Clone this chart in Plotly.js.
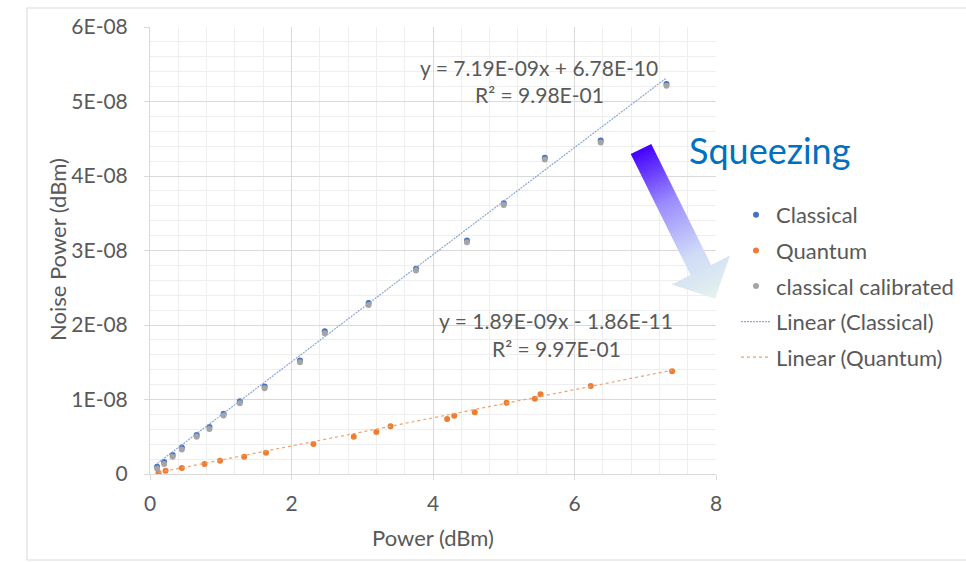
<!DOCTYPE html>
<html>
<head>
<meta charset="utf-8">
<script src="https://cdn.plot.ly/plotly-3.0.1.min.js"></script>
<style>html,body{margin:0;padding:0;background:#fff;}#chart{width:966px;height:562px;}</style>
</head>
<body>
<div id="chart"></div>
<script>
// ---- data ----
const classicalX = [0.10, 0.20, 0.32, 0.45, 0.66, 0.84, 1.04, 1.27, 1.62, 2.12, 2.47, 3.09, 3.76, 4.48, 5.00, 5.58, 6.37, 7.30];
const classicalY = [9.8e-10, 1.6e-9, 2.55e-9, 3.55e-9, 5.25e-9, 6.3e-9, 8.1e-9, 9.75e-9, 1.175e-8, 1.525e-8, 1.915e-8, 2.295e-8, 2.755e-8, 3.135e-8, 3.635e-8, 4.245e-8, 4.475e-8, 5.235e-8];
const calibratedX = [0.10, 0.20, 0.32, 0.45, 0.66, 0.84, 1.04, 1.27, 1.62, 2.12, 2.47, 3.09, 3.76, 4.48, 5.00, 5.58, 6.37, 7.30];
const calibratedY = [7.5e-10, 1.35e-9, 2.3e-9, 3.3e-9, 5.0e-9, 6.05e-9, 7.85e-9, 9.5e-9, 1.15e-8, 1.5e-8, 1.89e-8, 2.27e-8, 2.73e-8, 3.11e-8, 3.61e-8, 4.22e-8, 4.45e-8, 5.21e-8];
const quantumX = [0.12, 0.22, 0.45, 0.77, 0.99, 1.33, 1.64, 2.31, 2.88, 3.20, 3.40, 4.20, 4.30, 4.59, 5.04, 5.44, 5.52, 6.23, 7.38];
const quantumY = [1.7e-10, 4.4e-10, 8.0e-10, 1.34e-9, 1.79e-9, 2.32e-9, 2.86e-9, 4.03e-9, 5.0e-9, 5.64e-9, 6.4e-9, 7.38e-9, 7.83e-9, 8.28e-9, 9.57e-9, 1.01e-8, 1.07e-8, 1.18e-8, 1.38e-8];
// trendline coefficients shown on the chart [slope, intercept]
const fitClassical = [7.19e-9, 6.78e-10];
const fitQuantum = [1.89e-9, -1.86e-11];
const xTicks = [0, 2, 4, 6, 8];
const yTicks = [0, 1e-8, 2e-8, 3e-8, 4e-8, 5e-8, 6e-8];
const yTickText = ['0', '1E-08', '2E-08', '3E-08', '4E-08', '5E-08', '6E-08'];
const eqClassical = ['y = 7.19E-09x + 6.78E-10', 'R² = 9.98E-01'];
const eqQuantum = ['y = 1.89E-09x - 1.86E-11', 'R² = 9.97E-01'];
const seriesNames = ['Classical', 'Quantum', 'classical calibrated', 'Linear (Classical)', 'Linear (Quantum)'];
const xTitle = 'Power (dBm)';
const yTitle = 'Noise Power (dBm)';

// ---- build ----
const FONT = 'Lato, "Open Sans", sans-serif';
const TXT = '#595959';
function fitLine(xs, c) {
  const xmin = Math.min(...xs), xmax = Math.max(...xs);
  return {x: [xmin, xmax], y: [c[0] * xmin + c[1], c[0] * xmax + c[1]]};
}
const lc = fitLine(classicalX, fitClassical);
const lq = fitLine(quantumX, fitQuantum);

const traces = [
  {x: classicalX, y: classicalY, name: seriesNames[0], mode: 'markers', type: 'scatter',
   marker: {color: '#4472C4', size: 6}, legendgroup: 'a'},
  {x: quantumX, y: quantumY, name: seriesNames[1], mode: 'markers', type: 'scatter',
   marker: {color: '#ED7D31', size: 6}, legendgroup: 'b'},
  {x: calibratedX, y: calibratedY, name: seriesNames[2], mode: 'markers', type: 'scatter',
   marker: {color: '#A5A5A5', size: 6}, legendgroup: 'c'},
  {x: lc.x, y: lc.y, name: seriesNames[3], mode: 'lines', type: 'scatter',
   line: {color: '#8EA6D8', width: 1.2, dash: '2px,1px'}, legendgroup: 'd'},
  {x: lq.x, y: lq.y, name: seriesNames[4], mode: 'lines', type: 'scatter',
   line: {color: '#F0A070', width: 1.2, dash: 'dot'}, legendgroup: 'e'}
];

// arrow (decoration) as SVG with gradient, coordinates in page pixels
const svg = '<svg xmlns="http://www.w3.org/2000/svg" width="160" height="190" viewBox="600 130 160 190">' +
  '<defs><linearGradient id="g" gradientUnits="userSpaceOnUse" x1="641" y1="149" x2="715" y2="299">' +
  '<stop offset="0" stop-color="#4400FF"/><stop offset="0.35" stop-color="#9A8BFF"/>' +
  '<stop offset="0.7" stop-color="#CFDAF6"/><stop offset="1" stop-color="#E4F3EE"/></linearGradient></defs>' +
  '<polygon fill="url(#g)" points="630.7,154.1 651.3,143.9 711.2,264.9 730.0,255.6 715.1,298.7 671.8,284.4 690.6,275.1"/></svg>';

const L = 150, R = 716, T = 27, B = 474;
const W = R - L, H = B - T;
const px = v => (v - L) / W, py = v => (B - v) / H;

const layout = {
  width: 966, height: 562,
  margin: {l: L, r: 966 - R, t: T, b: 562 - B, pad: 0, autoexpand: false},
  paper_bgcolor: '#ffffff', plot_bgcolor: '#ffffff',
  showlegend: true,
  font: {family: FONT, color: TXT},
  xaxis: {
    range: [0, 8], tickmode: 'array', tickvals: xTicks, ticktext: xTicks.map(String),
    showgrid: true, gridcolor: '#D9D9D9', gridwidth: 1,
    minor: {tick0: 0, dtick: 0.4, showgrid: true, gridcolor: '#EEEEEE', gridwidth: 1},
    showline: true, linecolor: '#D9D9D9', linewidth: 1, zeroline: false,
    ticks: 'outside', ticklen: 5, tickcolor: '#D9D9D9', ticklabelstandoff: 6,
    tickfont: {family: FONT, size: 21, color: TXT},
    title: {text: xTitle, font: {family: FONT, size: 22, color: TXT}, standoff: 16},
    automargin: false
  },
  yaxis: {
    range: [0, 6e-8], tickmode: 'array', tickvals: yTicks, ticktext: yTickText,
    showgrid: true, gridcolor: '#D9D9D9', gridwidth: 1,
    minor: {tick0: 0, dtick: 2e-9, showgrid: true, gridcolor: '#EEEEEE', gridwidth: 1},
    showline: true, linecolor: '#D9D9D9', linewidth: 1, zeroline: false,
    ticks: 'outside', ticklen: 5, tickcolor: '#D9D9D9', ticklabelstandoff: 12,
    tickfont: {family: FONT, size: 21, color: TXT},
    automargin: false
  },
  legend: {
    x: px(736), y: py(194), xanchor: 'left', yanchor: 'top',
    traceorder: 'grouped', tracegroupgap: 4,
    font: {family: FONT, size: 22, color: TXT}, bgcolor: 'rgba(0,0,0,0)'
  },
  shapes: [
    {type: 'rect', xref: 'paper', yref: 'paper', x0: px(27), x1: px(1000), y0: py(560), y1: py(8),
     line: {color: '#D9D9D9', width: 1}, fillcolor: 'rgba(0,0,0,0)', layer: 'below'}
  ],
  annotations: [
    {xref: 'paper', yref: 'paper', x: px(57), y: py(250), text: yTitle, showarrow: false, textangle: -90,
     xanchor: 'center', yanchor: 'middle', font: {family: FONT, size: 22, color: TXT}},
    {xref: 'paper', yref: 'paper', x: px(538.5), y: py(67), text: eqClassical[0], showarrow: false,
     xanchor: 'center', yanchor: 'middle', font: {family: FONT, size: 21, color: TXT}},
    {xref: 'paper', yref: 'paper', x: px(539), y: py(95), text: eqClassical[1], showarrow: false,
     xanchor: 'center', yanchor: 'middle', font: {family: FONT, size: 21, color: TXT}},
    {xref: 'paper', yref: 'paper', x: px(556), y: py(320), text: eqQuantum[0], showarrow: false,
     xanchor: 'center', yanchor: 'middle', font: {family: FONT, size: 21, color: TXT}},
    {xref: 'paper', yref: 'paper', x: px(556.5), y: py(348), text: eqQuantum[1], showarrow: false,
     xanchor: 'center', yanchor: 'middle', font: {family: FONT, size: 21, color: TXT}},
    {xref: 'paper', yref: 'paper', x: px(769), y: py(150), text: 'Squeezing', showarrow: false,
     xanchor: 'center', yanchor: 'middle', font: {family: FONT, size: 36, color: '#0070C0'}}
  ],
  images: [
    {source: 'data:image/svg+xml;charset=utf-8,' + encodeURIComponent(svg),
     xref: 'paper', yref: 'paper', x: px(600), y: py(130), sizex: 160 / W, sizey: 190 / H,
     xanchor: 'left', yanchor: 'top', sizing: 'stretch', layer: 'above'}
  ]
};

Plotly.newPlot('chart', traces, layout, {displayModeBar: false, staticPlot: true});
</script>
</body>
</html>
